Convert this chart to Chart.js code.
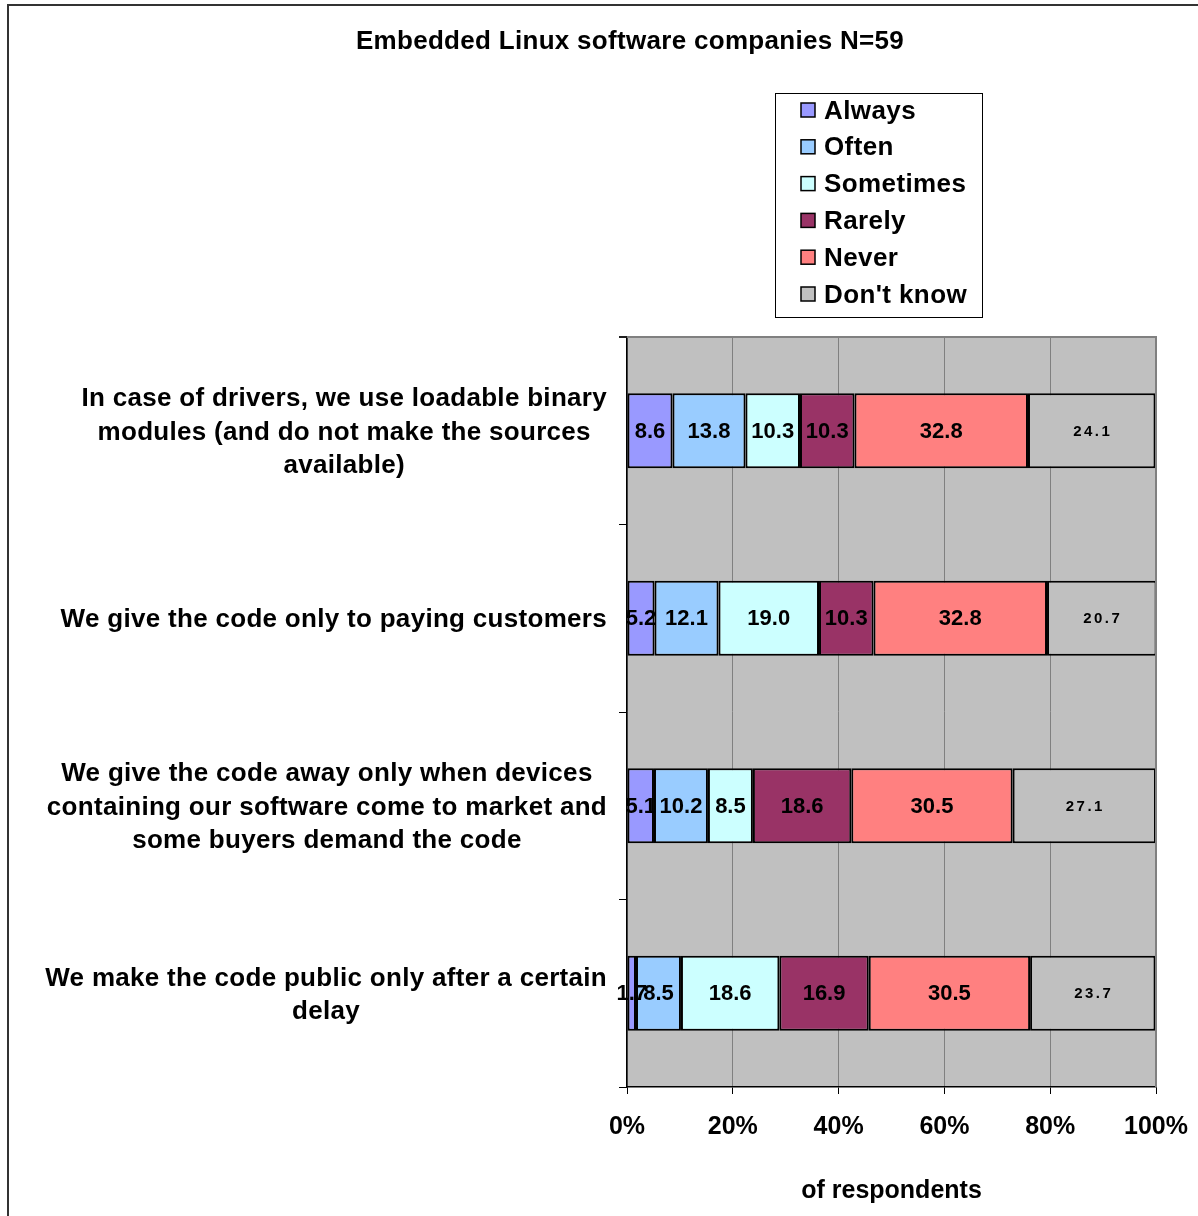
<!DOCTYPE html>
<html><head><meta charset="utf-8">
<script src="https://cdn.jsdelivr.net/npm/chart.js@4.4.0/dist/chart.umd.min.js"></script>
<style>html,body{margin:0;padding:0;background:#fff;overflow:hidden}#wrap{width:1198px;height:1216px;position:relative}</style>
</head><body><div id="wrap"><canvas id="c" width="1198" height="1216"></canvas></div>
<script>
const categories = [
  ["In case of drivers, we use loadable binary", "modules (and do not make the sources", "available)"],
  ["We give the code only to paying customers"],
  ["We give the code away only when devices", "containing our software come to market and", "some buyers demand the code"],
  ["We make the code public only after a certain", "delay"]
];
const seriesNames = ["Always", "Often", "Sometimes", "Rarely", "Never", "Don't know"];
const always    = [8.6, 5.2, 5.1, 1.7];
const often     = [13.8, 12.1, 10.2, 8.5];
const sometimes = [10.3, 19.0, 8.5, 18.6];
const rarely    = [10.3, 10.3, 18.6, 16.9];
const never     = [32.8, 32.8, 30.5, 30.5];
const dontKnow  = [24.1, 20.7, 27.1, 23.7];
const xTickLabels = ["0%", "20%", "40%", "60%", "80%", "100%"];
const chartTitle = "Embedded Linux software companies N=59";
const xTitle = "of respondents";

const colors = ["#9999FF", "#99CCFF", "#CCFFFF", "#993366", "#FF8080", "#C0C0C0"];
const seriesValues = [always, often, sometimes, rarely, never, dontKnow];
const FONT = "'Liberation Sans', Arial, sans-serif";

const decorPlugin = {
  id: 'decor',
  beforeDraw(chart) {
    const ctx = chart.ctx, a = chart.chartArea;
    ctx.save();
    ctx.fillStyle = '#fff';
    ctx.fillRect(0, 0, chart.width, chart.height);
    // outer frame
    ctx.strokeStyle = '#333';
    ctx.lineWidth = 2;
    ctx.beginPath();
    ctx.moveTo(8, chart.height + 2);
    ctx.lineTo(8, 5);
    ctx.lineTo(chart.width + 2, 5);
    ctx.stroke();
    // plot background
    ctx.fillStyle = '#C0C0C0';
    ctx.fillRect(a.left, a.top, a.right - a.left, a.bottom - a.top);
    // title
    ctx.fillStyle = '#000';
    ctx.font = "bold 26px " + FONT;
    ctx.letterSpacing = '0.3px';
    ctx.textAlign = 'center';
    ctx.textBaseline = 'middle';
    ctx.fillText(chartTitle, 630, 42);
    ctx.letterSpacing = '0px';
    ctx.restore();
  },
  afterDraw(chart) {
    const ctx = chart.ctx, a = chart.chartArea;
    ctx.save();
    // plot top & right border
    ctx.strokeStyle = '#808080';
    ctx.lineWidth = 2;
    ctx.beginPath();
    ctx.moveTo(a.left - 8, a.top);
    ctx.lineTo(a.right, a.top);
    ctx.lineTo(a.right, a.bottom);
    ctx.stroke();
    ctx.strokeStyle = '#000';
    ctx.lineWidth = 1.5;
    ctx.beginPath();
    ctx.moveTo(a.left - 8, a.top);
    ctx.lineTo(a.left, a.top);
    ctx.stroke();

    // data labels
    chart.data.datasets.forEach((ds, di) => {
      const meta = chart.getDatasetMeta(di);
      meta.data.forEach((el, i) => {
        const v = ds.data[i];
        const cx = (el.x + el.base) / 2;
        ctx.fillStyle = '#000';
        ctx.textAlign = 'center';
        ctx.textBaseline = 'middle';
        if (di === 5) {
          ctx.font = "bold 15px " + FONT;
          ctx.letterSpacing = '2.5px';
          ctx.fillText(v.toFixed(1), cx + 1, el.y + 1);
          ctx.letterSpacing = '0px';
        } else {
          ctx.font = "bold 22px " + FONT;
          ctx.fillText(v.toFixed(1), cx, el.y + 1);
        }
      });
    });

    // category labels (each block centred on its widest line, right edge near axis)
    const ys = chart.scales.y;
    ctx.font = "bold 26px " + FONT;
    ctx.letterSpacing = '0.3px';
    ctx.fillStyle = '#000';
    ctx.textAlign = 'center';
    ctx.textBaseline = 'middle';
    const lh = 33.5;
    categories.forEach((lines, i) => {
      const cy = ys.getPixelForValue(i) + 2;
      const widest = Math.max(...lines.map(l => ctx.measureText(l).width));
      const cx = a.left - 20 - widest / 2;
      lines.forEach((l, k) => {
        ctx.fillText(l, cx, cy + (k - (lines.length - 1) / 2) * lh);
      });
    });
    ctx.letterSpacing = '0px';

    // legend
    const lx = 775, ly = 93, lw = 207, lhgt = 224;
    ctx.fillStyle = '#fff';
    ctx.fillRect(lx, ly, lw, lhgt);
    ctx.strokeStyle = '#000';
    ctx.lineWidth = 1;
    ctx.strokeRect(lx + 0.5, ly + 0.5, lw, lhgt);
    ctx.font = "bold 26px " + FONT;
    ctx.letterSpacing = '0.4px';
    ctx.textAlign = 'left';
    ctx.textBaseline = 'middle';
    chart.data.datasets.forEach((ds, di) => {
      const y = 110 + di * 36.8;
      ctx.fillStyle = ds.backgroundColor;
      ctx.fillRect(801, y - 7, 14, 14);
      ctx.strokeStyle = '#000';
      ctx.lineWidth = 1.5;
      ctx.strokeRect(801, y - 7, 14, 14);
      ctx.fillStyle = '#000';
      ctx.fillText(ds.label, 824, y + 1.5);
    });
    ctx.letterSpacing = '0px';
    ctx.restore();
  }
};

new Chart(document.getElementById('c'), {
  type: 'bar',
  data: {
    labels: categories,
    datasets: seriesNames.map((n, i) => ({
      label: n,
      data: seriesValues[i],
      backgroundColor: colors[i],
      borderColor: '#000',
      borderWidth: 2,
      borderSkipped: false,
      barPercentage: 0.4,
      categoryPercentage: 1.0
    }))
  },
  options: {
    indexAxis: 'y',
    responsive: false,
    animation: false,
    devicePixelRatio: 1,
    layout: { padding: { left: 619, right: 42, top: 337, bottom: 0 } },
    plugins: { legend: { display: false }, title: { display: false }, tooltip: { enabled: false } },
    scales: {
      x: {
        stacked: true,
        min: 0, max: 100,
        ticks: {
          stepSize: 20,
          padding: 18,
          color: '#000',
          font: { family: FONT, size: 25, weight: 'bold' },
          callback: (v) => xTickLabels[Math.round(v / 20)]
        },
        grid: { color: '#808080', lineWidth: 1, tickColor: '#000', tickLength: 7, drawTicks: true },
        border: { color: '#000', width: 1.5 },
        title: {
          display: true, text: xTitle, color: '#000',
          font: { family: FONT, size: 25, weight: 'bold' },
          padding: { top: 0, bottom: 10 }
        },
        afterFit: (s) => { s.height = 129; s.paddingLeft = 0; s.paddingRight = 0; }
      },
      y: {
        stacked: true,
        offset: true,
        ticks: { display: false },
        grid: { drawOnChartArea: false, drawTicks: true, tickLength: 8, tickColor: '#000', offset: true },
        border: { color: '#000', width: 1.5 },
        afterFit: (s) => { s.width = 8; }
      }
    }
  },
  plugins: [decorPlugin]
});
</script>
</body></html>
